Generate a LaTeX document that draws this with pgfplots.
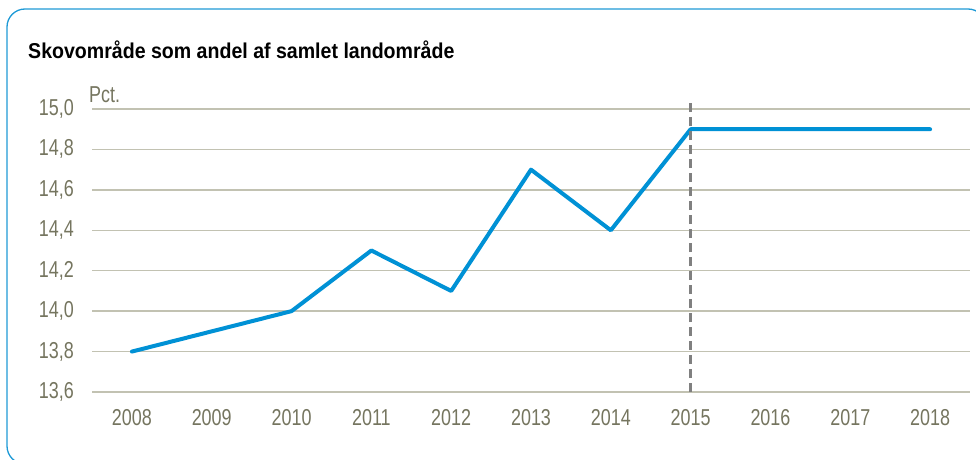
\documentclass[border=0pt]{standalone}
\usepackage{fontspec}
\setmainfont{Liberation Sans}
\newfontfamily\narrowfont{Liberation Sans}[FakeStretch=0.78]
\newfontfamily\titlefont{Liberation Sans}[FakeStretch=0.91]
\usepackage{pgfplots}
\pgfplotsset{compat=1.18}
\definecolor{lineblue}{HTML}{0091D5}
\definecolor{frameblue}{HTML}{1E9AD6}
\definecolor{ticktext}{HTML}{75755F}
\definecolor{gridc}{HTML}{C2C2B2}
\definecolor{dashc}{HTML}{808080}

\begin{document}
\begin{tikzpicture}[x=1pt,y=1pt]
\useasboundingbox (0,0) rectangle (976,459);
\begin{scope}
  \clip (0,0) rectangle (976,459);
  \draw[frameblue,line width=1.3pt,rounded corners=18pt] (7,-5) rectangle (986,450);
\end{scope}
\node[anchor=base west,inner sep=0pt,font=\titlefont\bfseries\fontsize{21.5}{25}\selectfont] at (28,400)
  {Skovområde som andel af samlet landområde};
\node[anchor=base west,inner sep=0pt,text=ticktext,font=\narrowfont\fontsize{23}{26}\selectfont] at (89,357) {Pct.};
\begin{axis}[
  at={(92pt,67pt)},anchor=south west,
  scale only axis,width=878pt,height=283pt,
  xmin=-0.5,xmax=10.5,ymin=13.6,ymax=15.0,
  xtick={0,1,2,3,4,5,6,7,8,9,10},
  xticklabels={2008,2009,2010,2011,2012,2013,2014,2015,2016,2017,2018},
  ytick={13.6,13.8,14.0,14.2,14.4,14.6,14.8,15.0},
  axis line style={draw=none},
  major tick length=0pt,
  ymajorgrids=true,
  grid style={gridc,line width=1.4pt},
  tick label style={text=ticktext,font=\narrowfont\fontsize{23}{26}\selectfont,inner sep=0pt},
  yticklabel style={anchor=east,xshift=-18pt},
  xticklabel style={anchor=north,yshift=-17pt},
  /pgf/number format/assume math mode=true,
  yticklabel={\pgfmathprintnumber[fixed,fixed zerofill,precision=1,use comma]{\tick}},
  clip=false,
]
  \addplot[lineblue,line width=4pt,line join=round,line cap=round] coordinates {
    (0,13.8) (1,13.9) (2,14.0) (3,14.3) (4,14.1) (5,14.7)
    (6,14.4) (7,14.9) (8,14.9) (9,14.9) (10,14.9)};
  \addplot[dashc,line width=2.8pt,dash pattern=on 9pt off 5pt] coordinates {(7,13.6) (7,15.03)};
\end{axis}
\end{tikzpicture}
\end{document}
